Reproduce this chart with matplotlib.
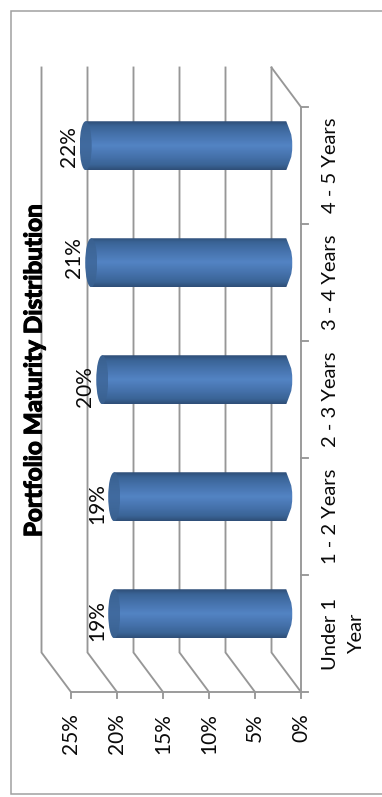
import numpy as np
import matplotlib
matplotlib.use("Agg")
import matplotlib.pyplot as plt
import matplotlib.patheffects as pe
from matplotlib.colors import LinearSegmentedColormap
from matplotlib.patches import Ellipse, PathPatch, Rectangle
from matplotlib.path import Path

categories = ["Under 1\nYear", "1 - 2 Years", "2 - 3 Years", "3 - 4 Years", "4 - 5 Years"]
values = [18.7, 18.7, 20.0, 21.2, 21.8]
value_ticks = [0, 5, 10, 15, 20, 25]
title = "Portfolio Maturity Distribution"

W, H = 382, 797
PX_PER_PCT = 46 / 5
PX_PER_CAT = 117.0
ZERO_X, BASE_Y = 301, 692
DEPTH_X, DEPTH_Y = 29.5, 39.5

# vertical nudge of the value labels, in pixels
LABEL_NUDGE = [7, 7, 7, -5, 1]

GRID = "#979797"
FRAME = "#a0a0a0"
TEXT = "#0a0a0a"

plt.rcParams["font.family"] = ["Lato", "DejaVu Sans"]

body_cmap = LinearSegmentedColormap.from_list(
    "body", [(0, "#2f4f78"), (0.1, "#3a6496"), (0.25, "#4470a9"), (0.5, "#5384c4"),
             (0.75, "#4470a9"), (0.9, "#3a6496"), (1, "#2f4f78")])
cap_cmap = LinearSegmentedColormap.from_list(
    "cap", ["#385f8e", "#3e6799", "#416ba0", "#3e6799", "#385f8e"])


def px_x(p):
    return (ZERO_X - p) / PX_PER_PCT


def px_y(p):
    return (BASE_Y - p) / PX_PER_CAT


def shaded(ax, cmap, extent, clip):
    grad = np.linspace(0, 1, 64).reshape(-1, 1)
    im = ax.imshow(grad, cmap=cmap, extent=extent, aspect="auto", origin="lower",
                   interpolation="bilinear", zorder=3)
    im.set_clip_path(clip)


def draw_cylinder(ax, cat_idx, value, nudge):
    # axis of the cylinder runs through the middle of the floor depth
    yc = cat_idx + 0.5 + 0.5 * DEPTH_Y / PX_PER_CAT
    x0 = 0.5 * DEPTH_X / PX_PER_PCT
    half_h = 24.5 / PX_PER_CAT
    rx = 6.0 / PX_PER_PCT
    x_end = x0 + value
    k = 0.5523

    verts = [
        (x0, yc - half_h),
        (x0 - rx * k, yc - half_h * 0.6), (x0 - rx, yc - half_h * k), (x0 - rx, yc),
        (x0 - rx, yc + half_h * k), (x0 - rx * k, yc + half_h * 0.6), (x0, yc + half_h),
        (x_end, yc + half_h),
        (x_end, yc - half_h),
        (x0, yc - half_h),
    ]
    codes = [Path.MOVETO, Path.CURVE4, Path.CURVE4, Path.CURVE4,
             Path.CURVE4, Path.CURVE4, Path.CURVE4, Path.LINETO, Path.LINETO, Path.CLOSEPOLY]
    body = PathPatch(Path(verts, codes), transform=ax.transData, fc="none", ec="none")
    ax.add_patch(body)
    shaded(ax, body_cmap, (x_end + rx, x0 - rx, yc - half_h, yc + half_h), body)

    cap = Ellipse((x_end, yc), 2 * rx, 2 * half_h, transform=ax.transData, fc="none", ec="none")
    ax.add_patch(cap)
    shaded(ax, cap_cmap, (x_end + rx, x_end - rx, yc - half_h, yc + half_h), cap)
    ax.text(x_end + rx + 11 / PX_PER_PCT, yc - nudge / PX_PER_CAT, f"{value:.0f}%",
            rotation=90, ha="center", va="center", fontsize=15, color=TEXT, zorder=5)


fig = plt.figure(figsize=(W / 100, H / 100), dpi=100)
ax = fig.add_axes([0, 0, 1, 1])
ax.axis("off")

# outer chart border
ax.add_patch(Rectangle((px_x(10.5), px_y(793.5)), px_x(400) - px_x(10.5), px_y(10.5) - px_y(793.5),
                       fc="white", ec=FRAME, lw=1.1, zorder=0))

dx = DEPTH_X / PX_PER_PCT
dy = DEPTH_Y / PX_PER_CAT
n = len(categories)

# back wall gridlines running down into the floor
for v in value_ticks:
    ax.plot([v + dx, v + dx, v], [n + dy, dy, 0], color=GRID, lw=1.35, zorder=1,
            solid_joinstyle="miter")
    ax.plot([v, v], [0, -6 / PX_PER_CAT], color=GRID, lw=1.35, zorder=1)
    ax.text(v, -21 / PX_PER_CAT, f"{v}%", rotation=90, ha="center", va="top",
            fontsize=15, color=TEXT)

# floor edges and category axis
ax.plot([value_ticks[-1], 0], [0, 0], color=GRID, lw=1.35, zorder=2)
ax.plot([0, 0], [0, n], color=GRID, lw=1.35, zorder=2)
ax.plot([dx, 0], [n + dy, n], color=GRID, lw=1.35, zorder=2)
for i in range(n + 1):
    ax.plot([0, -7 / PX_PER_PCT], [i, i], color=GRID, lw=1.35, zorder=2)

for i, (cat, val) in enumerate(zip(categories, values)):
    draw_cylinder(ax, i, val, LABEL_NUDGE[i])
    ax.text(-(29.5 + (13 if "\n" in cat else 0)) / PX_PER_PCT, i + 0.5, cat, rotation=90,
            ha="center", va="center", ma="center", fontsize=14.5, color=TEXT, linespacing=1.7)

ax.text(px_x(34), px_y(371), title, rotation=90, ha="center", va="center",
        fontsize=17.5, fontweight="bold", color="black", zorder=6,
        path_effects=[pe.withStroke(linewidth=0.8, foreground="black")])

ax.set_xlim(px_x(0), px_x(W))
ax.set_ylim(px_y(H), px_y(0))
fig.savefig("out.png", dpi=100)
